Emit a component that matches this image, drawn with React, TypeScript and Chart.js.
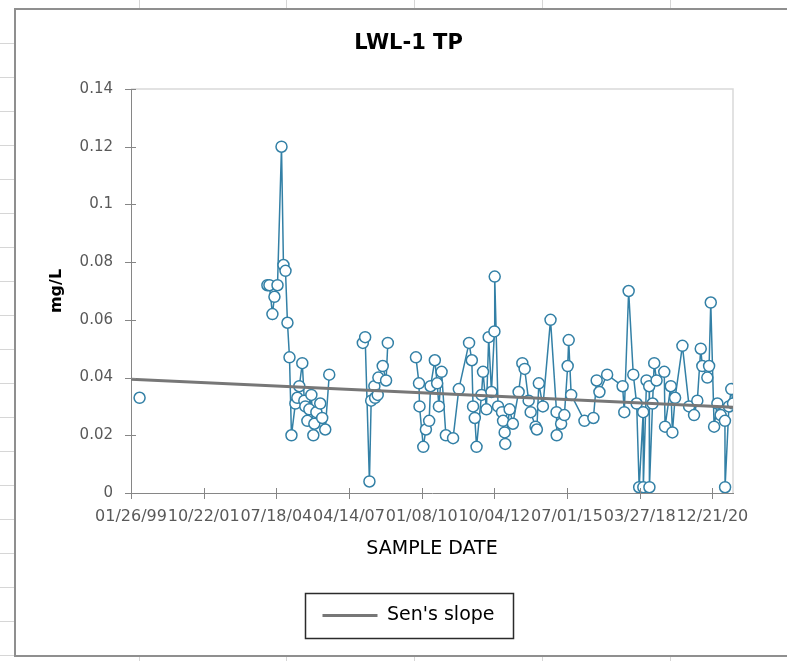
import React, { useEffect, useRef } from "react";
import { Chart, registerables } from "chart.js";

Chart.register(...registerables);

// ---------- data ----------
const chartTitle = "LWL-1 TP";
const yAxisTitle = "mg/L";
const xAxisTitle = "SAMPLE DATE";
const seriesLabel = "TP";
const trendLabel = "Sen's slope";

const axisStartDate = "1999-01-26";
const axisEndDate = "2021-10-01";
const xTickStepDays = 1000;
const xTickCount = 9;
const yTickValues = [0, 0.02, 0.04, 0.06, 0.08, 0.1, 0.12, 0.14];

// null values are periods without samples (the line is broken there)
const sampleDates = [
  "1999-05-24", "2001-06-01",
  "2004-03-17", "2004-04-14", "2004-05-25", "2004-06-22", "2004-08-03", "2004-09-27",
  "2004-10-24", "2004-11-21", "2004-12-18", "2005-01-15", "2005-02-11", "2005-04-06",
  "2005-05-03", "2005-05-30", "2005-07-10", "2005-08-07", "2005-08-21", "2005-09-18",
  "2005-10-15", "2005-11-12", "2005-12-09", "2005-12-23", "2006-01-20", "2006-03-14",
  "2006-04-10", "2006-05-22", "2006-07-16", "2007-03-01",
  "2007-10-21", "2007-11-22", "2008-01-20", "2008-02-13", "2008-03-28", "2008-04-07",
  "2008-05-13", "2008-05-22", "2008-07-21", "2008-09-05", "2008-09-29", "2009-04-01",
  "2009-10-21", "2009-12-02", "2009-12-09", "2010-01-30", "2010-03-07", "2010-04-21",
  "2010-05-10", "2010-07-08", "2010-08-09", "2010-09-02", "2010-10-09", "2010-12-07",
  "2011-03-16", "2011-06-03", "2011-10-22", "2011-11-29", "2011-12-16", "2012-01-09",
  "2012-02-02", "2012-04-10", "2012-05-01", "2012-06-17", "2012-07-18", "2012-08-25",
  "2012-10-05", "2012-10-09", "2012-11-24", "2013-01-18", "2013-02-01", "2013-02-23",
  "2013-03-03", "2013-05-02", "2013-06-16", "2013-09-03", "2013-10-24", "2013-11-25",
  "2014-01-19", "2014-02-16", "2014-04-24", "2014-05-12", "2014-06-08", "2014-08-03",
  "2014-11-16", "2015-02-07", "2015-02-09", "2015-04-11", "2015-05-26", "2015-07-10",
  "2015-07-24", "2015-08-27", "2016-02-26", "2016-06-28", "2016-08-12", "2016-09-19",
  "2017-01-03", "2017-08-04", "2017-08-27", "2017-10-26", "2017-12-29", "2018-02-13",
  "2018-03-20", "2018-05-14", "2018-05-16", "2018-06-29", "2018-08-05", "2018-08-08",
  "2018-09-20", "2018-10-13", "2018-11-14", "2019-02-28", "2019-03-11", "2019-05-29",
  "2019-06-20", "2019-07-27", "2019-11-05", "2020-02-05", "2020-04-13", "2020-05-28",
  "2020-07-14", "2020-08-05", "2020-10-13", "2020-11-06", "2020-11-29", "2021-01-14",
  "2021-02-28", "2021-04-14", "2021-06-12", "2021-06-14", "2021-08-06", "2021-09-07",
  "2021-10-01",
];

const tpValues = [
  0.033, null,
  0.072, 0.072, 0.062, 0.068, 0.072, 0.120,
  0.079, 0.077, 0.059, 0.047, 0.020, 0.031,
  0.033, 0.037, 0.045, 0.032, 0.030, 0.025,
  0.029, 0.034, 0.020, 0.024, 0.028, 0.031,
  0.026, 0.022, 0.041, null,
  0.052, 0.054, 0.004, 0.032, 0.037, 0.033,
  0.034, 0.040, 0.044, 0.039, 0.052, null,
  0.047, 0.038, 0.030, 0.016, 0.022, 0.025,
  0.037, 0.046, 0.038, 0.030, 0.042, 0.020,
  0.019, 0.036, 0.052, 0.046, 0.030, 0.026,
  0.016, 0.034, 0.042, 0.029, 0.054, 0.035,
  0.056, 0.075, 0.030, 0.028, 0.025, 0.021,
  0.017, 0.029, 0.024, 0.035, 0.045, 0.043,
  0.032, 0.028, 0.023, 0.022, 0.038, 0.030,
  0.060, 0.028, 0.020, 0.024, 0.027, 0.044,
  0.053, 0.034, 0.025, 0.026, 0.039, 0.035,
  0.041, 0.037, 0.028, 0.070, 0.041, 0.031,
  0.002, 0.028, 0.002, 0.039, 0.037, 0.002,
  0.031, 0.045, 0.039, 0.042, 0.023, 0.037,
  0.021, 0.033, 0.051, 0.030, 0.027, 0.032,
  0.050, 0.044, 0.040, 0.044, 0.066, 0.023,
  0.031, 0.027, 0.025, 0.002, 0.030, 0.036,
  0.031,
];

const trendDates = ["1999-01-26", "2021-10-01"];
const trendValues = [0.0394, 0.0297];

// ---------- helpers ----------
const DAY_MS = 86400000;
const toMs = (iso: string) => {
  const [y, m, d] = iso.split("-").map(Number);
  return Date.UTC(y, m - 1, d);
};
const baseMs = toMs(axisStartDate);
const toDay = (iso: string) => Math.round((toMs(iso) - baseMs) / DAY_MS);
const pad2 = (n: number) => (n < 10 ? "0" + n : "" + n);
const formatDay = (day: number) => {
  const dt = new Date(baseMs + day * DAY_MS);
  return (
    pad2(dt.getUTCMonth() + 1) + "/" + pad2(dt.getUTCDate()) + "/" + pad2(dt.getUTCFullYear() % 100)
  );
};

const FONT = "'DejaVu Sans', sans-serif";
const SERIES_COLOR = "#3380a6";
const TREND_COLOR = "#777777";
const AXIS_COLOR = "#868686";

const chartDecor = {
  id: "chartDecor",
  beforeDatasetsDraw(chart: any) {
    const { ctx, chartArea } = chart;
    ctx.save();
    ctx.strokeStyle = "#d9d9d9";
    ctx.lineWidth = 1.5;
    ctx.beginPath();
    ctx.moveTo(chartArea.left, chartArea.top);
    ctx.lineTo(chartArea.right, chartArea.top);
    ctx.lineTo(chartArea.right, chartArea.bottom);
    ctx.stroke();
    ctx.restore();
  },
  afterDraw(chart: any) {
    const { ctx, chartArea, scales } = chart;
    const xs = scales.x;
    const ys = scales.y;
    ctx.save();
    ctx.strokeStyle = AXIS_COLOR;
    ctx.lineWidth = 1;
    ctx.beginPath();
    xs.ticks.forEach((t: any) => {
      const px = Math.round(xs.getPixelForValue(t.value)) + 0.5;
      ctx.moveTo(px, chartArea.bottom - 5);
      ctx.lineTo(px, chartArea.bottom + 6);
    });
    ys.ticks.forEach((t: any) => {
      const py = Math.round(ys.getPixelForValue(t.value)) + 0.5;
      ctx.moveTo(chartArea.left - 6, py);
      ctx.lineTo(chartArea.left + 5, py);
    });
    ctx.stroke();

    const legend = chart.legend;
    if (legend && legend.legendHitBoxes && legend.legendHitBoxes[0]) {
      const hb = legend.legendHitBoxes[0];
      const cy = hb.top + hb.height / 2;
      const left = hb.left - 17;
      const right = hb.left + hb.width + 19;
      ctx.strokeStyle = "#2b2b2b";
      ctx.lineWidth = 1.5;
      ctx.strokeRect(Math.round(left) + 0.5, Math.round(cy - 22.5) + 0.5, Math.round(right - left), 45);
    }
    ctx.restore();
  },
};

export default function App() {
  const canvasRef = useRef<HTMLCanvasElement | null>(null);

  useEffect(() => {
    if (!canvasRef.current) return;
    const chart = new Chart(canvasRef.current, {
      type: "line",
      data: {
        datasets: [
          {
            label: trendLabel,
            data: trendDates.map((d, i) => ({ x: toDay(d), y: trendValues[i] })),
            borderColor: TREND_COLOR,
            backgroundColor: TREND_COLOR,
            borderWidth: 3,
            pointRadius: 0,
            tension: 0,
            fill: false,
          },
          {
            label: seriesLabel,
            data: sampleDates.map((d, i) => ({ x: toDay(d), y: tpValues[i] })),
            borderColor: SERIES_COLOR,
            backgroundColor: "#ffffff",
            borderWidth: 1.5,
            pointRadius: 5.5,
            pointBorderWidth: 1.5,
            pointBackgroundColor: "#ffffff",
            pointBorderColor: SERIES_COLOR,
            tension: 0,
            fill: false,
            spanGaps: false,
          },
        ],
      },
      options: {
        animation: false,
        responsive: false,
        maintainAspectRatio: false,
        devicePixelRatio: 1,
        layout: { padding: { left: 0, right: 0, top: 0, bottom: 20 } },
        plugins: {
          title: {
            display: true,
            text: chartTitle,
            color: "#000000",
            font: { family: FONT, size: 21, weight: "bold" },
            padding: { top: 21, bottom: 32.8 },
          },
          legend: {
            display: true,
            position: "bottom",
            align: "center",
            labels: {
              filter: (item: any) => item.text === trendLabel,
              usePointStyle: true,
              pointStyle: "line",
              pointStyleWidth: 55,
              color: "#000000",
              font: { family: FONT, size: 19 },
              padding: 43,
            },
          },
          tooltip: { enabled: false },
        },
        scales: {
          x: {
            type: "linear",
            position: "bottom",
            min: 0,
            max: toDay(axisEndDate),
            afterBuildTicks: (scale: any) => {
              scale.ticks = Array.from({ length: xTickCount }, (_, i) => ({ value: i * xTickStepDays }));
            },
            afterFit: (scale: any) => {
              scale.height = 70;
            },
            grid: { display: false, drawTicks: false },
            border: { display: true, color: AXIS_COLOR, width: 1 },
            ticks: {
              autoSkip: false,
              maxRotation: 0,
              minRotation: 0,
              padding: 14,
              color: "#595959",
              font: { family: FONT, size: 16 },
              callback: (v: any) => formatDay(Number(v)),
            },
            title: {
              display: true,
              text: xAxisTitle,
              color: "#000000",
              font: { family: FONT, size: 19 },
              padding: { top: 0, bottom: 2.6 },
            },
          },
          y: {
            type: "linear",
            position: "left",
            min: 0,
            max: 0.14,
            afterBuildTicks: (scale: any) => {
              scale.ticks = yTickValues.map((v) => ({ value: v }));
            },
            afterFit: (scale: any) => {
              scale.width = 115;
            },
            grid: { display: false, drawTicks: false },
            border: { display: true, color: AXIS_COLOR, width: 1 },
            ticks: {
              padding: 18,
              color: "#595959",
              font: { family: FONT, size: 15 },
              callback: (v: any) => String(Number(Number(v).toFixed(2))),
            },
            title: {
              display: true,
              text: yAxisTitle,
              color: "#000000",
              font: { family: FONT, size: 16, weight: "bold" },
              padding: { top: 31, bottom: 0 },
            },
          },
          // empty spacer on the right so the plot ends where the reference does
          ySpacer: {
            type: "linear",
            position: "right",
            display: true,
            min: 0,
            max: 1,
            afterFit: (scale: any) => {
              scale.width = 68;
            },
            grid: { display: false, drawTicks: false },
            border: { display: false },
            ticks: { display: false },
          },
        },
      },
      plugins: [chartDecor],
    } as any);
    return () => chart.destroy();
  }, []);

  const hLines: number[] = [];
  for (let y = 43; y <= 661; y += 34) hLines.push(y);
  const vLines = [139, 286, 414, 542, 670];

  return (
    <div
      style={{
        position: "fixed",
        left: 0,
        top: 0,
        width: 787,
        height: 661,
        overflow: "hidden",
        background: "#ffffff",
      }}
    >
      {hLines.map((y) => (
        <div
          key={"h" + y}
          style={{ position: "absolute", left: 0, top: y, width: 787, height: 1, background: "#d6d6d6" }}
        />
      ))}
      {vLines.map((x) => (
        <div
          key={"v" + x}
          style={{ position: "absolute", left: x, top: 0, width: 1, height: 661, background: "#d6d6d6" }}
        />
      ))}
      <div
        style={{
          position: "absolute",
          left: 14,
          top: 8,
          width: 789,
          height: 649,
          boxSizing: "border-box",
          border: "2px solid #8f8f8f",
          background: "#ffffff",
        }}
      />
      <canvas
        ref={canvasRef}
        width={785}
        height={645}
        style={{ position: "absolute", left: 16, top: 10, width: 785, height: 645 }}
      />
    </div>
  );
}
